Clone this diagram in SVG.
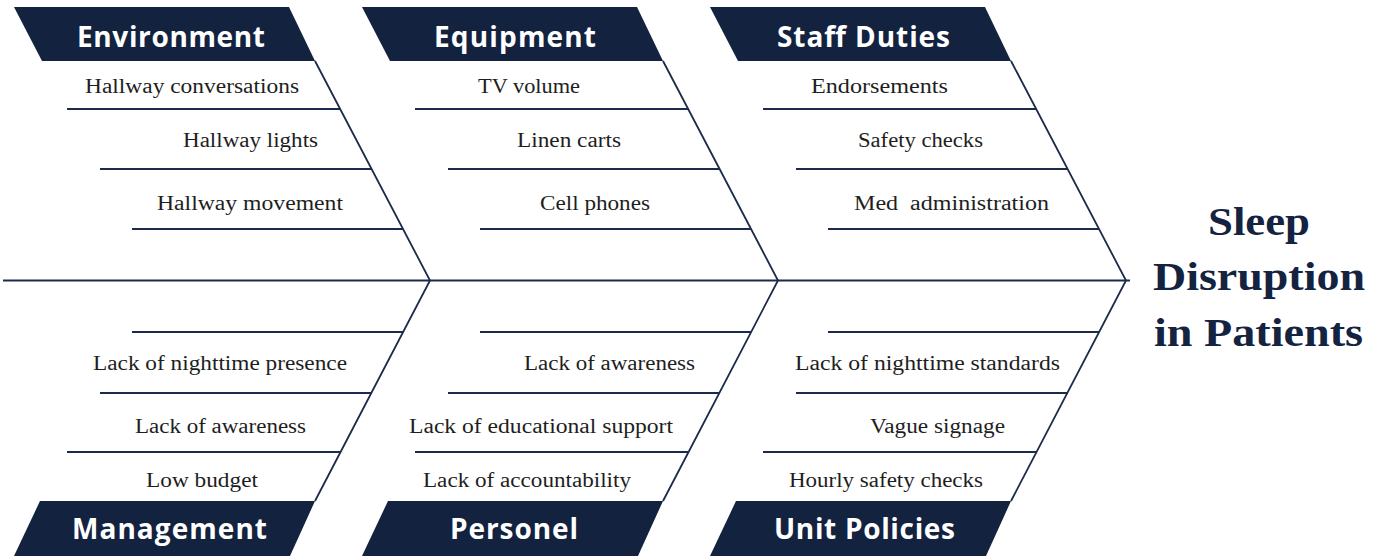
<svg xmlns="http://www.w3.org/2000/svg" width="1373" height="560" viewBox="0 0 1373 560">
  <style>
    .banner{fill:#13223f}
    .head{font-family:"Open Sans","Liberation Sans",sans-serif;font-weight:700;font-size:28px;fill:#ffffff;text-anchor:middle}
    .item{font-family:"Liberation Serif",serif;font-size:20.5px;fill:#1e1e1e}
    .bone{stroke:#1c2b4b;stroke-width:1.8;fill:none}
    .title{font-family:"Liberation Serif",serif;font-weight:700;font-size:40px;fill:#14233f;text-anchor:middle}
  </style>
  <defs>
    <polygon id="bannerTop" points="14,7 289,7 315,61 42,61"/>
    <polygon id="bannerBottom" points="40,501 315,501 290,556 14,556"/>
    <g id="ribs">
      <polyline points="315,61 430,280.5 315,501"/>
      <line x1="67" y1="109" x2="340" y2="109"/>
      <line x1="100" y1="169" x2="372" y2="169"/>
      <line x1="132" y1="229" x2="403" y2="229"/>
      <line x1="132" y1="332" x2="403" y2="332"/>
      <line x1="100" y1="393" x2="372" y2="393"/>
      <line x1="67" y1="452" x2="340" y2="452"/>
    </g>
  </defs>
  <rect width="1373" height="560" fill="#ffffff"/>

  <!-- spine, category bones and cause ticks -->
  <g id="connectors" class="bone">
    <line x1="3" y1="280.5" x2="1130" y2="280.5"/>
    <use href="#ribs"/>
    <use href="#ribs" transform="translate(348,0)"/>
    <use href="#ribs" transform="translate(696,0)"/>
  </g>

  <g id="environment">
    <use href="#bannerTop" class="banner"/>
    <text class="head" x="171" y="47" textLength="188">Environment</text>
    <text class="item" x="85" y="93" textLength="214" lengthAdjust="spacingAndGlyphs">Hallway conversations</text>
    <text class="item" x="183" y="147" textLength="135" lengthAdjust="spacingAndGlyphs">Hallway lights</text>
    <text class="item" x="157" y="210" textLength="186" lengthAdjust="spacingAndGlyphs">Hallway movement</text>
  </g>

  <g id="equipment">
    <use href="#bannerTop" class="banner" transform="translate(348,0)"/>
    <text class="head" x="515" y="47" textLength="162">Equipment</text>
    <text class="item" x="478" y="93" textLength="102" lengthAdjust="spacingAndGlyphs">TV volume</text>
    <text class="item" x="517" y="147" textLength="104" lengthAdjust="spacingAndGlyphs">Linen carts</text>
    <text class="item" x="540" y="210" textLength="110" lengthAdjust="spacingAndGlyphs">Cell phones</text>
  </g>

  <g id="staff-duties">
    <use href="#bannerTop" class="banner" transform="translate(696,0)"/>
    <text class="head" x="863.5" y="47" textLength="173">Staff Duties</text>
    <text class="item" x="811" y="93" textLength="137" lengthAdjust="spacingAndGlyphs">Endorsements</text>
    <text class="item" x="858" y="147" textLength="125" lengthAdjust="spacingAndGlyphs">Safety checks</text>
    <text class="item" x="854" y="210" textLength="195" lengthAdjust="spacingAndGlyphs" xml:space="preserve">Med  administration</text>
  </g>

  <g id="management">
    <use href="#bannerBottom" class="banner"/>
    <text class="head" x="169.5" y="539" textLength="195">Management</text>
    <text class="item" x="93" y="370" textLength="254" lengthAdjust="spacingAndGlyphs">Lack of nighttime presence</text>
    <text class="item" x="135" y="433" textLength="171" lengthAdjust="spacingAndGlyphs">Lack of awareness</text>
    <text class="item" x="146" y="487" textLength="112" lengthAdjust="spacingAndGlyphs">Low budget</text>
  </g>

  <g id="personel">
    <use href="#bannerBottom" class="banner" transform="translate(348,0)"/>
    <text class="head" x="514" y="539" textLength="128">Personel</text>
    <text class="item" x="524" y="370" textLength="171" lengthAdjust="spacingAndGlyphs">Lack of awareness</text>
    <text class="item" x="409" y="433" textLength="264" lengthAdjust="spacingAndGlyphs">Lack of educational support</text>
    <text class="item" x="423" y="487" textLength="208" lengthAdjust="spacingAndGlyphs">Lack of accountability</text>
  </g>

  <g id="unit-policies">
    <use href="#bannerBottom" class="banner" transform="translate(696,0)"/>
    <text class="head" x="864.5" y="539" textLength="181">Unit Policies</text>
    <text class="item" x="795" y="370" textLength="265" lengthAdjust="spacingAndGlyphs">Lack of nighttime standards</text>
    <text class="item" x="870" y="433" textLength="135" lengthAdjust="spacingAndGlyphs">Vague signage</text>
    <text class="item" x="789" y="487" textLength="194" lengthAdjust="spacingAndGlyphs">Hourly safety checks</text>
  </g>

  <g id="effect">
    <text class="title" x="1259" y="235" textLength="102" lengthAdjust="spacingAndGlyphs">Sleep</text>
    <text class="title" x="1259" y="290" textLength="212" lengthAdjust="spacingAndGlyphs">Disruption</text>
    <text class="title" x="1258.5" y="346" textLength="209" lengthAdjust="spacingAndGlyphs">in Patients</text>
  </g>
</svg>
